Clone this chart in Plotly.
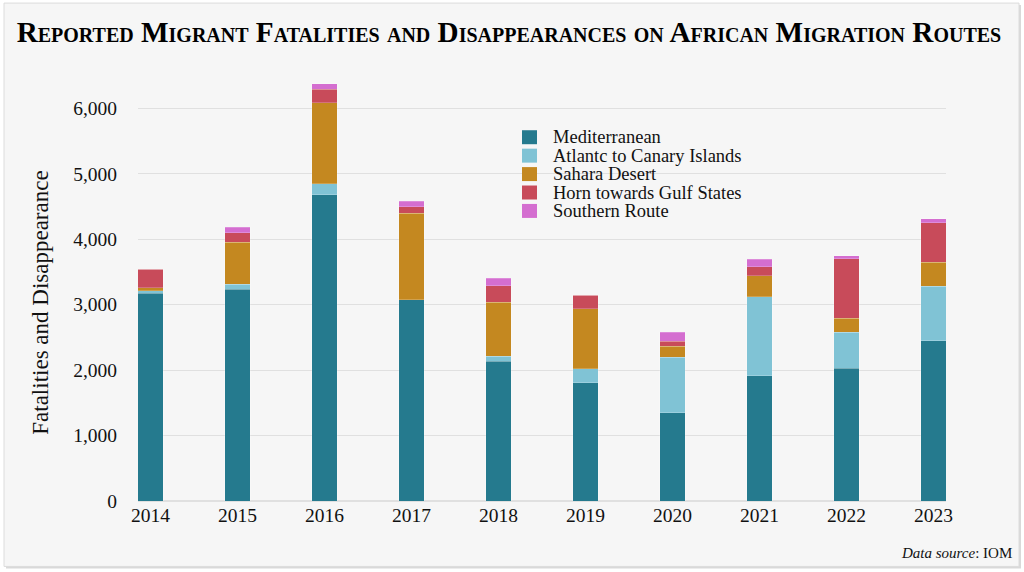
import plotly.graph_objects as go

years = [2014, 2015, 2016, 2017, 2018, 2019, 2020, 2021, 2022, 2023]
mediterranean = [3176, 3237, 4676, 3074, 2133, 1803, 1346, 1915, 2026, 2449]
atlantic = [40, 77, 168, 0, 76, 214, 854, 1209, 555, 834]
sahara = [41, 640, 1240, 1323, 824, 920, 162, 316, 214, 366]
horn = [285, 147, 204, 100, 255, 203, 76, 142, 905, 604]
southern = [0, 82, 86, 83, 117, 0, 137, 113, 50, 57]

series_names = ["Mediterranean", "Atlantc to Canary Islands", "Sahara Desert",
                "Horn towards Gulf States", "Southern Route"]
series_values = [mediterranean, atlantic, sahara, horn, southern]
colors = ["#257A8E", "#80C3D5", "#C48820", "#C84B5A", "#D46ED0"]
y_ticks = [0, 1000, 2000, 3000, 4000, 5000, 6000]

W, H = 1024, 572
L, R, T, B = 138, 78, 69, 70.5
pw, ph = W - L - R, H - T - B

def px(x):
    return (x - L) / pw

def py(y):
    return (H - B - y) / ph

FONT = "Liberation Serif"
fig = go.Figure()
for name, vals, c in zip(series_names, series_values, colors):
    fig.add_trace(go.Bar(x=years, y=vals, name=name, width=0.29, showlegend=False,
                         marker=dict(color=c, line=dict(width=0.6, color="rgba(255,255,255,0.35)"))))

shapes = [
    dict(type="rect", xref="paper", yref="paper", x0=px(6), x1=px(1021), y0=py(569), y1=py(5),
         fillcolor="#d9d9d9", line=dict(width=0), layer="below"),
    dict(type="rect", xref="paper", yref="paper", x0=px(4), x1=px(1019), y0=py(567), y1=py(3),
         fillcolor="#f6f6f6", line=dict(width=1, color="#dcdcdc"), layer="below"),
    dict(type="rect", xref="paper", yref="paper", x0=px(512), x1=px(663), y0=py(245), y1=py(115),
         fillcolor="#f6f6f6", line=dict(width=0), layer="between"),
]
annotations = [
    dict(text="<i>Data source</i>: IOM", xref="paper", yref="paper",
         x=px(1014), y=py(554), xanchor="right", yanchor="middle", showarrow=False,
         font=dict(size=15)),
    dict(text="Fatalities and Disappearance", xref="paper", yref="paper", textangle=-90,
         x=px(41), y=py(303), xanchor="center", yanchor="middle", showarrow=False,
         font=dict(size=23, color="#111111")),
]

# manual legend
leg_x, leg_y0, leg_dy = 522, 137.3, 18.45
for i, (name, c) in enumerate(zip(series_names, colors)):
    yc = leg_y0 + i * leg_dy
    shapes.append(dict(type="rect", xref="paper", yref="paper", x0=px(leg_x), x1=px(leg_x + 15),
                       y0=py(yc + 7), y1=py(yc - 7), fillcolor=c, line=dict(width=0), layer="above"))
    annotations.append(dict(text=name, xref="paper", yref="paper", x=px(551), y=py(yc),
                            xanchor="left", yanchor="middle", showarrow=False,
                            font=dict(size=18.5, color="#111111")))

fig.update_layout(
    width=W, height=H,
    barmode="stack",
    margin=dict(l=L, r=R, t=T, b=B),
    paper_bgcolor="white",
    plot_bgcolor="rgba(0,0,0,0)",
    font=dict(family=FONT, color="#111111"),
    showlegend=False,
    title=dict(text="<b>Reported Migrant Fatalities and Disappearances on African Migration Routes</b>",
               x=0.497, xref="container", xanchor="center", y=1 - 32 / H, yref="container", yanchor="middle",
               font=dict(family=FONT, size=29.2, color="#000000", variant="small-caps")),
    xaxis=dict(range=[2013.856, 2023.144], tickvals=years, ticktext=[str(y) for y in years],
               showgrid=False, zeroline=False, showline=False, ticks="",
               tickfont=dict(size=19.5)),
    yaxis=dict(range=[0, 6600], tickvals=y_ticks, tickformat=",d",
               showgrid=True, gridcolor="#e0e0e0", gridwidth=1, zeroline=True, zerolinecolor="#e0e0e0",
               showline=False, ticks="", ticklabelstandoff=20, tickfont=dict(size=19.5)),
    shapes=shapes,
    annotations=annotations,
)
fig.write_html("out.html", config={"displayModeBar": False},
               post_script="document.body.style.margin='0px';")
